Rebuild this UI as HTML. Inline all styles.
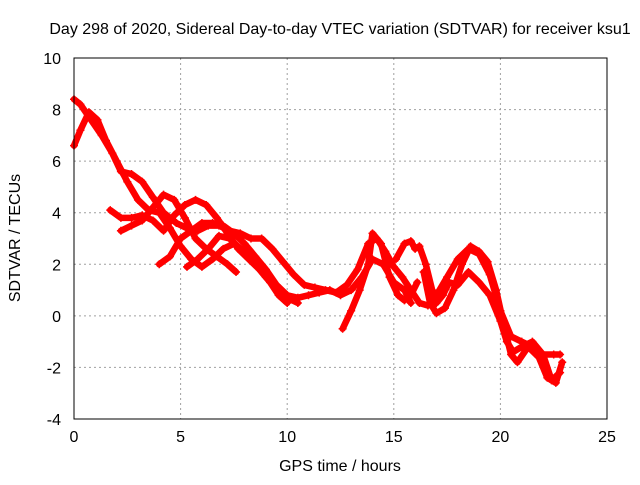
<!DOCTYPE html>
<html><head><meta charset="utf-8"><style>
body{margin:0;background:#fff}
svg text{font-family:"Liberation Sans",sans-serif;font-size:16px;fill:#000}
</style></head><body>
<svg id="chart" width="640" height="480">
<rect width="640" height="480" fill="#fff"/>
<g id="grid"></g><g id="ticks"></g><g id="marks"></g>
<rect x="74" y="58" width="533" height="361" fill="none" stroke="#000" stroke-width="1"/>
<text x="340" y="34" text-anchor="middle">Day 298 of 2020, Sidereal Day-to-day VTEC variation (SDTVAR) for receiver ksu1</text>
<text x="340" y="471" text-anchor="middle">GPS time / hours</text>
<text x="0" y="0" transform="translate(20,238) rotate(-90)" text-anchor="middle">SDTVAR / TECUs</text>
</svg>
<script>
const xTicks=[0,5,10,15,20,25];
const yTicks=[-4,-2,0,2,4,6,8,10];
const trace1=[[0,8.4],[0.3,8.2],[0.8,7.6],[1.3,7],[1.8,6.3],[2.2,5.6],[2.7,5.5],[3.2,5.2],[3.7,4.6],[4.2,4.0],[4.8,3.6],[5.3,3.4],[5.8,3.3],[6.3,3.5],[6.8,3.5],[7.3,3.3],[7.8,3.2],[8.3,3.0],[8.8,3.0],[9.3,2.6],[9.8,2.1],[10.3,1.6],[10.8,1.2],[11.3,1.1],[11.8,1.0],[12.3,0.9],[12.8,1.2],[13.3,1.8],[13.8,2.8],[14.2,3.0],[14.6,2.5],[15,1.9],[15.4,1.5],[15.8,1.0],[16.2,0.5],[16.6,0.4],[17,0.8],[17.5,1.5],[18,2.2],[18.5,2.6],[19,2.4],[19.5,1.6],[20,0.2],[20.5,-0.8],[21,-1.0],[21.5,-1.2],[22,-1.5],[22.5,-1.5],[22.8,-1.5]];
const trace2=[[0,6.6],[0.3,7.2],[0.7,7.9],[1.1,7.6],[1.5,6.8],[2,6.0],[2.5,5.2],[3,4.5],[3.5,4.1],[4,4.0],[4.5,3.4],[5,2.7],[5.5,2.2],[6,1.9],[6.5,2.2],[7,2.6],[7.5,2.8],[8,2.5],[8.5,2.0],[9,1.5],[9.5,1.1],[10,0.7],[10.5,0.5]];
const trace3=[[1.7,4.1],[2.2,3.8],[2.7,3.8],[3.2,3.9],[3.7,3.7],[4.2,3.3],[4.7,3.9],[5.2,4.3],[5.7,4.5],[6.2,4.3],[6.7,3.8],[7.2,3.2],[7.7,2.6],[8.2,2.2],[8.7,1.8],[9.2,1.3],[9.6,0.8],[10,0.5]];
const trace4=[[2.2,3.3],[2.7,3.5],[3.2,3.7],[3.7,4.2],[4.2,4.7],[4.7,4.5],[5.2,3.8],[5.7,3.0],[6.2,2.6],[6.7,2.3],[7.2,2.0],[7.6,1.7]];
const trace5=[[4,2.0],[4.5,2.3],[5,3.0],[5.5,3.3],[6,3.6],[6.5,3.6],[7,3.5],[7.5,3.2],[8,2.8],[8.5,2.3],[9,1.8],[9.5,1.2],[10,0.8],[10.5,0.7],[11,0.8],[11.5,0.9],[12,1.0],[12.5,0.8],[13,1.0],[13.5,1.5],[14,2.2],[14.5,2.0],[15,1.3],[15.5,1.0],[15.8,0.5]];
const trace6=[[5.3,1.9],[5.8,2.2],[6.3,2.6],[6.8,3.1],[7.3,3.0],[7.8,2.6],[8.2,2.3]];
const trace7=[[12.6,-0.5],[13,0.2],[13.4,1.0],[13.8,2.0],[14,3.2],[14.4,2.8],[14.8,1.5],[15.2,0.8],[15.5,0.6],[15.8,0.8],[16.1,1.3]];
const trace8=[[15.1,2.2],[15.5,2.8],[15.8,2.9],[16,2.6],[16.2,2.7],[16.5,2.0],[16.8,1.0],[17,0.5],[17.3,0.8],[17.6,1.3],[18,1.2],[18.5,1.7],[19,1.3],[19.5,0.8],[20,-0.2],[20.3,-1],[20.6,-1.4],[21,-1.2],[21.5,-1.0],[22,-1.5],[22.4,-2.5],[22.8,-2.2]];
const trace9=[[16.4,1.7],[16.7,0.5],[17,0.1],[17.4,0.3],[17.8,1.0],[18.2,2.0],[18.6,2.7],[19,2.5],[19.4,2.1],[19.8,1.0],[20.2,-0.5],[20.5,-1.5],[20.8,-1.8],[21.3,-1.2],[21.8,-1.6],[22.2,-2.4],[22.6,-2.6],[22.9,-1.8]];
const traces=[trace1,trace2,trace3,trace4,trace5,trace6,trace7,trace8,trace9];
const NS="http://www.w3.org/2000/svg";
const X0=74,X1=607,Y0=419,Y1=58;
function sx(h){return X0+(h-0)/(25-0)*(X1-X0);}
function sy(v){return Y0-(v+4)/(10+4)*(Y0-Y1);}
function mk(tag,attrs,parent){const e=document.createElementNS(NS,tag);for(const k in attrs)e.setAttribute(k,attrs[k]);parent.appendChild(e);return e;}
const grid=document.getElementById('grid'),ticks=document.getElementById('ticks'),marks=document.getElementById('marks');
xTicks.forEach(t=>{
 const x=sx(t);
 if(t>0&&t<25){const l=mk('line',{x1:x,x2:x,y1:Y1,y2:Y0,stroke:'#a0a0a0','stroke-dasharray':'2,3'},grid);
 
 }
 const tx=mk('text',{x:x,y:Y0+23,'text-anchor':'middle'},ticks);tx.textContent=t;
 
 
});
yTicks.forEach(t=>{
 const y=sy(t);
 if(t>-4&&t<10){const l=mk('line',{x1:X0,x2:X1,y1:y,y2:y,stroke:'#a0a0a0','stroke-dasharray':'2,3'},grid);
 
 }
 const tx=mk('text',{x:X0-13,y:y+6,'text-anchor':'end'},ticks);tx.textContent=t;
 
 
});
traces.forEach((tr,i)=>{
 const p=mk('polyline',{points:tr.map(d=>sx(d[0])+','+sy(d[1])).join(' '),fill:'none',stroke:'#ff0000','stroke-width':6.5,'stroke-linejoin':'round','stroke-linecap':'round'},marks);
 
 
 tr.forEach(d=>{
  const x=sx(d[0]),y=sy(d[1]);
  const m=mk('path',{d:`M${x-4},${y}H${x+4}M${x},${y-4}V${y+4}`,stroke:'#ff0000','stroke-width':1.5},marks);
  
  
 });
});
</script>
</body></html>
